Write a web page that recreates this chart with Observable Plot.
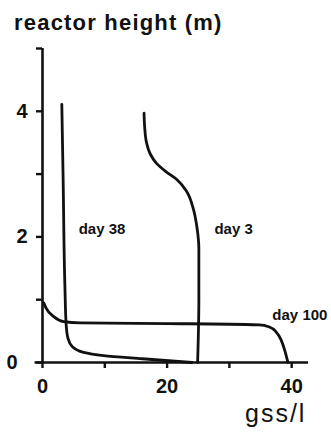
<!DOCTYPE html>
<html>
<head>
<meta charset="utf-8">
<script src="https://cdn.jsdelivr.net/npm/d3@7"></script>
<script src="https://cdn.jsdelivr.net/npm/@observablehq/plot@0.6"></script>
<style>
  html, body { margin: 0; padding: 0; background: #fff; }
  #wrap { position: relative; width: 331px; height: 442px; overflow: hidden; background: #fff; }
  #wrap svg { position: absolute; left: 0; top: 0; }
  .title { position: absolute; left: 14px; top: 10px; font: bold 22px "Liberation Sans", Arial, sans-serif; color: #111; white-space: nowrap; letter-spacing: 1.2px; }
  .xlab { position: absolute; left: 245px; top: 401px; font: 25px/24px "Liberation Sans", Arial, sans-serif; color: #111; white-space: nowrap; letter-spacing: 2px; }
</style>
</head>
<body>
<div id="wrap">
  <div class="title">reactor height (m)</div>
  <div class="xlab">gss/l</div>
</div>
<script>
// Series: concentration (gss/l) vs reactor height (m)
const day3X = [16.3, 16.4, 16.7, 17.3, 18.3, 19.8, 21.6, 23.1, 24.2, 24.8, 25.1, 25.1, 24.9];
const day3Y = [3.97, 3.75, 3.50, 3.32, 3.17, 3.04, 2.91, 2.73, 2.45, 2.15, 1.80, 1.0, 0.0];

const day38X = [3.1, 3.3, 3.6, 3.8, 4.1, 4.8, 6.6, 9.8, 16.0, 24.0];
const day38Y = [4.11, 3.0, 1.2, 0.6, 0.38, 0.25, 0.16, 0.11, 0.06, 0.0];

const day100X = [0.2, 0.6, 1.8, 3.4, 6.1, 20.0, 34.8, 36.3, 37.4, 38.3, 38.9, 39.4];
const day100Y = [0.95, 0.86, 0.73, 0.65, 0.63, 0.62, 0.60, 0.57, 0.50, 0.36, 0.19, 0.0];

// Curve labels (text and anchor in data units)
const labelText = ["day 38", "day 3", "day 100"];
const labelX = [5.8, 27.6, 36.9];
const labelY = [2.13, 2.13, 0.75];

// Axis ticks
const xTicks = [0, 10, 20, 30, 40];
const xTickLabels = ["0", "", "20", "", "40"];
const yTicks = [0, 1, 2, 3, 4, 5];
const yTickLabels = ["", "", "2", "", "4", ""];

const toRows = (xs, ys) => xs.map((x, i) => ({x, y: ys[i]}));
const labels = labelText.map((t, i) => ({t, x: labelX[i], y: labelY[i]}));

const font = "'Liberation Sans', Arial, sans-serif";
const ink = "#111";

const chart = Plot.plot({
  width: 331,
  height: 442,
  marginLeft: 42,
  marginRight: 23,
  marginTop: 48,
  marginBottom: 80,
  style: {background: "transparent", color: ink, fontFamily: font},
  x: {domain: [0, 42.7], ticks: xTicks},
  y: {domain: [0, 5], ticks: yTicks},
  marks: [
    Plot.ruleY([0], {x1: -1.2, x2: 42.7, stroke: ink, strokeWidth: 2.6}),
    Plot.ruleX([0], {y1: 0, y2: 5, stroke: ink, strokeWidth: 2.6}),
    Plot.axisX({ticks: xTicks, tickSize: 6, tickPadding: 10, strokeWidth: 2.4,
      tickFormat: (d) => xTickLabels[xTicks.indexOf(d)], fontSize: 20, fontWeight: "bold", label: null}),
    Plot.axisY({ticks: yTicks, tickSize: 6, tickPadding: 9, strokeWidth: 2.4,
      tickFormat: (d) => yTickLabels[yTicks.indexOf(d)], fontSize: 20, fontWeight: "bold", label: null}),
    Plot.text([0], {x: 0, y: 0, text: () => "0", dx: -36, fontSize: 20, fontWeight: "bold", textAnchor: "start"}),
    Plot.line(toRows(day3X, day3Y), {x: "x", y: "y", stroke: ink, strokeWidth: 2.8, curve: "monotone-y"}),
    Plot.line(toRows(day38X, day38Y), {x: "x", y: "y", stroke: ink, strokeWidth: 2.8, curve: "monotone-y"}),
    Plot.line(toRows(day100X, day100Y), {x: "x", y: "y", stroke: ink, strokeWidth: 2.8, curve: "monotone-x"}),
    Plot.text(labels, {x: "x", y: "y", text: "t", textAnchor: "start", fontSize: 15, fontWeight: "bold", fill: ink})
  ]
});
document.getElementById("wrap").prepend(chart);
</script>
</body>
</html>
